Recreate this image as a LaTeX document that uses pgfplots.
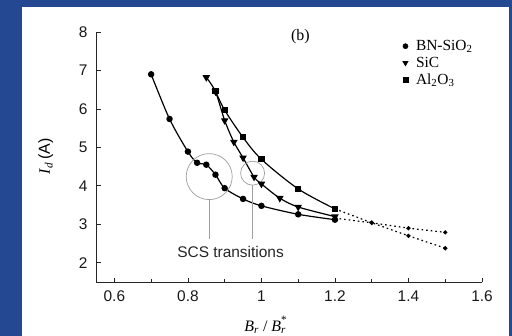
\documentclass[border=0pt]{standalone}
\usepackage{pgfplots}
\pgfplotsset{compat=1.18}
\usepackage{pgfplotstable}
\usepackage{fontspec}
\setmainfont{Liberation Serif}
\setsansfont{Liberation Sans}
\definecolor{slideblue}{RGB}{36,72,146}

% Discharge current vs normalised radial field
\pgfplotstableread{
x y
0.70 6.90
0.75 5.74
0.80 4.89
0.825 4.60
0.85 4.55
0.875 4.29
0.90 3.94
0.95 3.66
1.00 3.48
1.10 3.26
1.20 3.12
}\bnsio
\pgfplotstableread{
x y
0.85 6.82
0.875 6.45
0.90 5.70
0.925 5.14
0.95 4.73
0.98 4.23
1.00 4.05
1.05 3.68
1.10 3.45
1.20 3.20
}\sic
\pgfplotstableread{
x y
0.875 6.46
0.90 5.97
0.95 5.26
1.00 4.69
1.10 3.92
1.20 3.40
}\alo
\pgfplotstableread{
x y
1.20 3.40
1.30 3.04
1.40 2.70
1.50 2.38
}\extA
\pgfplotstableread{
x y
1.20 3.16
1.30 3.04
1.40 2.90
1.50 2.79
}\extB

\begin{document}
\begin{tikzpicture}
\fill[slideblue] (0bp,0bp) rectangle (512bp,-336bp);
\fill[white] (22bp,-7bp) rectangle (509bp,-336bp);
\begin{axis}[
  at={(96bp,-282bp)}, anchor=south west,
  scale only axis, width=386bp, height=250bp,
  xmin=0.55, xmax=1.6, ymin=1.5, ymax=8,
  clip=false,
  axis x line*=bottom, axis y line*=left,
  axis line style={-, line width=0.8bp, black!85},
  xtick={0.6,0.8,1,1.2,1.4,1.6},
  minor xtick={0.7,0.9,1.1,1.3,1.5},
  ytick={2,3,4,5,6,7,8},
  tick align=inside,
  major tick length=4.5bp, minor tick length=3.5bp,
  every tick/.style={line width=0.8bp, black!85},
  /pgf/number format/assume math mode=true,
  tick label style={font=\sffamily\fontsize{15.5}{18}\selectfont, text=black!90},
  xticklabel style={yshift=-5bp},
  yticklabel style={xshift=-5bp},
  legend style={at={(axis cs:1.382,7.82)}, anchor=north west, draw=none, fill=none,
    font=\fontsize{15.5}{18}\selectfont, row sep=2.5bp, inner sep=0bp,
    nodes={inner sep=1.2bp}},
  legend cell align=left,
  legend image code/.code={\path[draw=none] (-0.12cm,0cm) (0.33cm,0cm); \draw[#1] plot coordinates {(0cm,0cm)};},
  every axis plot/.append style={black},
]
\addlegendimage{only marks, mark=*, mark size=2.6bp}
\addlegendentry{BN-SiO\textsubscript{2}}
\addlegendimage{only marks, mark=triangle*, mark size=3.2bp, mark options={rotate=180}}
\addlegendentry{SiC}
\addlegendimage{only marks, mark=square*, mark size=2.3bp}
\addlegendentry{Al\textsubscript{2}O\textsubscript{3}}

\addplot[forget plot, line width=1.2bp, smooth, mark=*, mark size=2.6bp] table {\bnsio};
\addplot[forget plot, line width=1.2bp, smooth, mark=triangle*, mark size=3.2bp, mark options={rotate=180}] table {\sic};
\addplot[forget plot, line width=1.2bp, smooth, mark=square*, mark size=2.5bp] table {\alo};
\addplot[forget plot, line width=1.2bp, dash pattern=on 1.6bp off 3bp, mark=*, mark size=1.5bp, mark options={solid}] table {\extA};
\addplot[forget plot, line width=1.2bp, dash pattern=on 1.6bp off 3bp, mark=*, mark size=1.5bp, mark options={solid}] table {\extB};

% Axis titles
\node[font=\fontsize{16}{19}\selectfont, rotate=90] at (axis description cs:-0.13,0.502)
  {\textit{I}\textsubscript{\textit{d}}\,{\sffamily(A)}};
\node[font=\fontsize{16}{19}\selectfont] at (axis description cs:0.44,-0.172)
  {\textit{B}\textsubscript{\textit{r}} / \textit{B}\rlap{\textsubscript{\textit{r}}}\raisebox{1.5bp}{\textsuperscript{*}}};

% Transition markers
\draw[gray!75, line width=0.7bp] (axis cs:0.858,4.24) circle[radius=23bp];
\draw[gray!75, line width=0.7bp] (axis cs:0.858,3.64) -- (axis cs:0.858,2.61);
\draw[gray!75, line width=0.7bp] (axis cs:0.976,4.33) circle[radius=12bp];
\draw[gray!75, line width=0.7bp] (axis cs:0.976,4.02) -- (axis cs:0.976,2.61);
\node[font=\sffamily\fontsize{15.5}{18}\selectfont, text=black!85] at (axis cs:0.916,2.29) {SCS transitions};
\node[font=\fontsize{16}{19}\selectfont] at (axis cs:1.106,7.88) {(b)};
\end{axis}
\pgfresetboundingbox
\useasboundingbox (0bp,0bp) rectangle (512bp,-336bp);
\end{tikzpicture}
\end{document}
